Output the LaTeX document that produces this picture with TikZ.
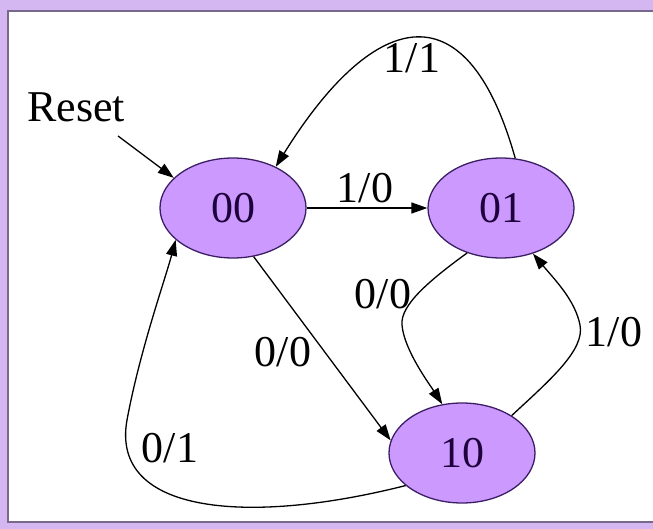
\documentclass[tikz,border=0pt]{standalone}
\usepackage{fontspec}
\setmainfont{Liberation Serif}
\usetikzlibrary{shapes.geometric,arrows.meta}
\definecolor{stfill}{RGB}{204,153,255}
\definecolor{stdraw}{RGB}{60,30,100}
\definecolor{sttext}{RGB}{30,0,60}
\definecolor{bandc}{RGB}{212,182,240}
\definecolor{bandline}{RGB}{120,105,140}
\begin{document}
\begin{tikzpicture}[x=1pt,y=-1pt,
  state/.style={ellipse, fill=stfill, draw=stdraw, line width=1.3pt,
    minimum width=146pt, minimum height=100pt, inner sep=0pt,
    text=sttext, font=\fontsize{44}{48}\selectfont},
  lbl/.style={inner sep=0pt, font=\fontsize{44}{48}\selectfont},
  tr/.style={line width=1.3pt, -{Triangle[length=16pt,width=11pt]}}]
% frame
\useasboundingbox (0,0) rectangle (653,529);
\fill[bandc] (0,0) rectangle (653,529);
\fill[white] (9,12) rectangle (653,521);
\draw[bandline, line width=2pt] (653,11) -- (8,11) -- (8,522) -- (653,522);
% states
\node[state] (s00) at (233,208) {00};
\node[state] (s01) at (501,208) {01};
\node[state] (s10) at (462,453) {10};
% labels
\node[lbl] (reset) at (76,107) {Reset};
\node[lbl] (l10a) at (365,188) {1/0};
\node[lbl] (l11) at (412,58) {1/1};
\node[lbl] (l00a) at (283,352) {0/0};
\node[lbl] (l00b) at (383,294) {0/0};
\node[lbl] (l10b) at (614,332) {1/0};
\node[lbl] (l01) at (170,448) {0/1};
% connectors
\coordinate (rs) at (118,136);
\draw[tr] (rs) -- (s00.153);
\draw[tr] (s00.east) -- (s01.west);
\draw[tr] (s01.74) .. controls (465,-20) and (370,15) .. (s00.44);
\draw[tr] (s00.-67) -- (s10.170);
\draw[tr] (s01.-127) .. controls (430,280) and (400,305) .. (402,325)
  .. controls (404,350) and (430,385) .. (s10.112);
\draw[tr] (s10.37) .. controls (550,380) and (585,350) .. (580,325)
  .. controls (575,300) and (555,280) .. (s01.-55);
\draw[tr] (s10.-150) .. controls (250,525) and (110,515) .. (127,420)
  .. controls (140,350) and (165,280) .. (s00.-151);
\end{tikzpicture}
\end{document}
